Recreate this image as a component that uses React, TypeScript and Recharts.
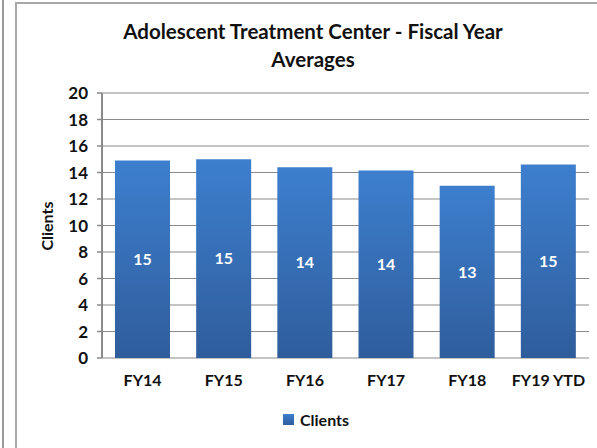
import React from 'react';
import {
    BarChart,
    Bar,
    XAxis,
    YAxis,
    CartesianGrid,
    LabelList
} from 'recharts';

const categories = ['FY14', 'FY15', 'FY16', 'FY17', 'FY18', 'FY19 YTD'];
const clients = [14.9, 15.0, 14.4, 14.15, 13.0, 14.6];
const yTicks = [0, 2, 4, 6, 8, 10, 12, 14, 16, 18, 20];
const boundaryTicks = [0, 1, 2, 3, 4, 5, 6];

const chartData = categories.map((name, i) => ({ name, clients: clients[i] }));

const FONT = 'Lato, "Open Sans", sans-serif';
const AXIS_GRAY = '#8a8a8a';

const App: React.FC = () => {
    return (
        <div style={{ position: 'fixed', left: 0, top: 0, width: 597, height: 448, background: '#fff', fontFamily: FONT, overflow: 'hidden' }}>
            {/* outer frames */}
            <div style={{ position: 'absolute', left: 2, top: 0, width: 2, height: 448, background: '#9a9a9a' }} />
            <div style={{ position: 'absolute', left: 15, top: 2, width: 2, height: 446, background: '#a8a8a8' }} />
            <div style={{ position: 'absolute', left: 15, top: 2, width: 582, height: 2, background: '#a8a8a8' }} />

            {/* title */}
            <div style={{ position: 'absolute', left: 103, top: 17, width: 420, textAlign: 'center', fontWeight: 700, fontSize: 20.5, lineHeight: '28px', color: '#111' }}>
                Adolescent Treatment Center - Fiscal Year<br />Averages
            </div>

            <div style={{ position: 'absolute', left: 0, top: 0 }}>
                <BarChart
                    width={597}
                    height={448}
                    data={chartData}
                    margin={{ top: 93, right: 8, left: 40, bottom: 50 }}
                    barSize={55}
                >
                    <defs>
                        <linearGradient id="barFill" x1="0" y1="0" x2="0" y2="1">
                            <stop offset="0%" stopColor="#3d7fce" />
                            <stop offset="100%" stopColor="#2f5d9c" />
                        </linearGradient>
                    </defs>
                    <CartesianGrid vertical={false} stroke={AXIS_GRAY} strokeWidth={1.2} />
                    <XAxis
                        xAxisId="bounds"
                        type="number"
                        domain={[0, 6]}
                        ticks={boundaryTicks}
                        height={0}
                        tick={false}
                        tickSize={5}
                        tickLine={{ stroke: AXIS_GRAY, strokeWidth: 1.5 }}
                        axisLine={{ stroke: AXIS_GRAY, strokeWidth: 2 }}
                        allowDataOverflow
                    />
                    <XAxis
                        dataKey="name"
                        height={40}
                        axisLine={false}
                        tickLine={false}
                        tickSize={0}
                        tickMargin={17}
                        interval={0}
                        tick={{ fill: '#111', fontSize: 16, fontWeight: 700, fontFamily: FONT }}
                    />
                    <YAxis
                        width={62}
                        domain={[0, 20]}
                        ticks={yTicks}
                        interval={0}
                        tickSize={5}
                        tickMargin={9}
                        axisLine={{ stroke: AXIS_GRAY, strokeWidth: 2 }}
                        tickLine={{ stroke: AXIS_GRAY, strokeWidth: 1.5 }}
                        tick={{ fill: '#111', fontSize: 17, fontWeight: 700, fontFamily: FONT }}
                        label={{
                            content: () => (
                                <text
                                    x={53}
                                    y={226}
                                    transform="rotate(-90 53 226)"
                                    textAnchor="middle"
                                    fill="#111"
                                    fontSize={16}
                                    fontWeight={700}
                                    fontFamily={FONT}
                                >
                                    Clients
                                </text>
                            )
                        }}
                    />
                    <Bar dataKey="clients" fill="url(#barFill)" isAnimationActive={false}>
                        <LabelList
                            dataKey="clients"
                            position="center"
                            formatter={(v: any) => Math.round(Number(v))}
                            fill="#fff"
                            fontSize={16}
                            fontWeight={700}
                            fontFamily={FONT}
                        />
                    </Bar>
                </BarChart>
            </div>

            {/* legend */}
            <div style={{ position: 'absolute', left: 283, top: 410, display: 'flex', alignItems: 'center', gap: 6, fontSize: 16, fontWeight: 700, color: '#111' }}>
                <span style={{ width: 11, height: 11, background: 'linear-gradient(#3d7fce, #2f5d9c)', display: 'inline-block' }} />
                <span>Clients</span>
            </div>
        </div>
    );
};

export default App;
